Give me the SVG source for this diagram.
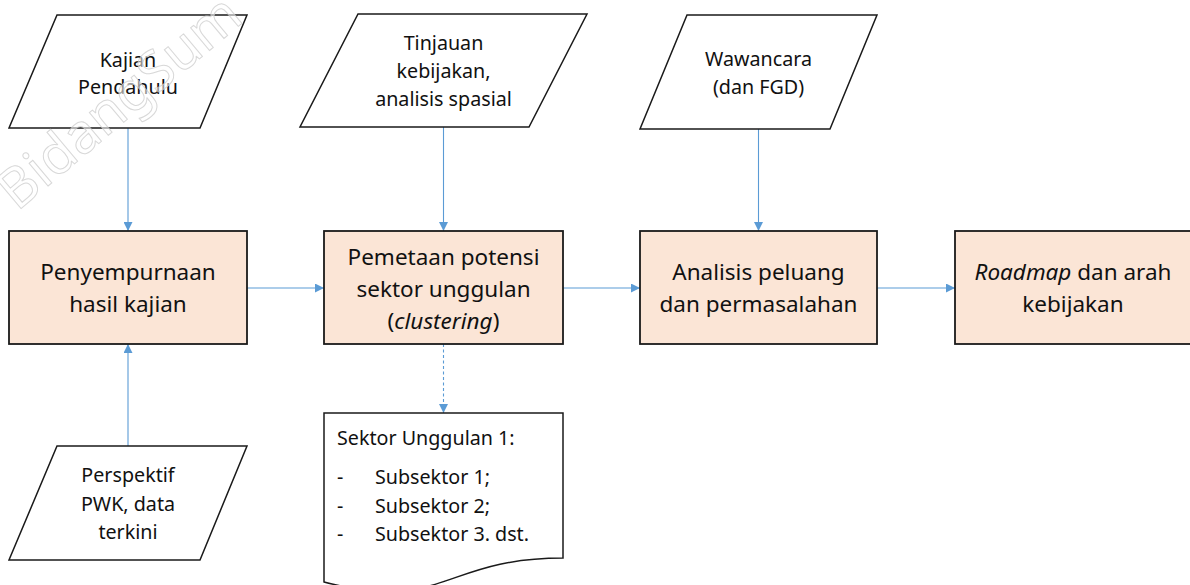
<svg xmlns="http://www.w3.org/2000/svg" width="1190" height="585" viewBox="0 0 1190 585">
  <defs>
    <marker id="arrow" viewBox="0 0 10 10" refX="10" refY="5" markerWidth="9" markerHeight="9" markerUnits="userSpaceOnUse" orient="auto">
      <path d="M0,0 L10,5 L0,10 Z" fill="#5B9BD5"/>
    </marker>
    <style>
      .process { fill: #FBE5D6; stroke: #1a1a1a; stroke-width: 1.8; }
      .io { fill: #ffffff; stroke: #1a1a1a; stroke-width: 1.5; stroke-linejoin: miter; }
      .doc { fill: #ffffff; stroke: #1a1a1a; stroke-width: 1.5; }
      .link { fill: none; stroke: #5B9BD5; stroke-width: 1.1; marker-end: url(#arrow); }
      .dashed { stroke-dasharray: 3 2.5; }
      .big { font-family: "Noto Sans", "Open Sans", sans-serif; font-size: 22.5px; fill: #111; text-anchor: middle; }
      .small { font-family: "Noto Sans", "Open Sans", sans-serif; font-size: 19.7px; fill: #111; text-anchor: middle; }
      .list { font-family: "Noto Sans", "Open Sans", sans-serif; font-size: 19.7px; fill: #111; }
      .wm { font-family: "Noto Sans", "Open Sans", sans-serif; font-size: 55px; fill: #ffffff; fill-opacity: 0.55; stroke: #c8c8c8; stroke-opacity: 0.7; stroke-width: 1; }
    </style>
  </defs>

  <rect width="1190" height="585" fill="#ffffff"/>

  <!-- connectors -->
  <g id="connectors">
    <line class="link" x1="128" y1="128" x2="128" y2="231"/>
    <line class="link" x1="443.5" y1="127" x2="443.5" y2="231"/>
    <line class="link" x1="758.5" y1="129" x2="758.5" y2="231"/>
    <line class="link" x1="128" y1="446" x2="128" y2="344"/>
    <line class="link" x1="247" y1="288" x2="324" y2="288"/>
    <line class="link" x1="563" y1="288" x2="640" y2="288"/>
    <line class="link" x1="877" y1="288" x2="955" y2="288"/>
    <line class="link dashed" x1="443.5" y1="344" x2="443.5" y2="413"/>
  </g>

  <!-- inputs -->
  <g id="kajian">
    <polygon class="io" points="57,15 247,15 200,128 9,128"/>
    <text class="small" x="128" y="67">Kajian</text>
    <text class="small" x="128" y="94">Pendahulu</text>
  </g>

  <g id="tinjauan">
    <polygon class="io" points="358,14 587,14 529,127 300,127"/>
    <text class="small" x="443.5" y="50">Tinjauan</text>
    <text class="small" x="443.5" y="78">kebijakan,</text>
    <text class="small" x="443.5" y="106">analisis spasial</text>
  </g>

  <g id="wawancara">
    <polygon class="io" points="687,15 877,15 830,129 640,129"/>
    <text class="small" x="758.5" y="66">Wawancara</text>
    <text class="small" x="758.5" y="94">(dan FGD)</text>
  </g>

  <g id="perspektif">
    <polygon class="io" points="57,446 247,446 200,560 9,560"/>
    <text class="small" x="128" y="482">Perspektif</text>
    <text class="small" x="128" y="511">PWK, data</text>
    <text class="small" x="128" y="539">terkini</text>
  </g>

  <!-- process steps -->
  <g id="penyempurnaan">
    <rect class="process" x="9" y="231" width="238" height="113"/>
    <text class="big" x="128" y="280">Penyempurnaan</text>
    <text class="big" x="128" y="312">hasil kajian</text>
  </g>

  <g id="pemetaan">
    <rect class="process" x="324" y="231" width="239" height="113"/>
    <text class="big" x="443.5" y="265">Pemetaan potensi</text>
    <text class="big" x="443.5" y="297">sektor unggulan</text>
    <text class="big" x="443.5" y="329">(<tspan font-style="italic">clustering</tspan>)</text>
  </g>

  <g id="analisis">
    <rect class="process" x="640" y="231" width="237" height="113"/>
    <text class="big" x="758.5" y="280">Analisis peluang</text>
    <text class="big" x="758.5" y="312">dan permasalahan</text>
  </g>

  <g id="roadmap">
    <rect class="process" x="955" y="231" width="238" height="113"/>
    <text class="big" x="1073" y="280"><tspan font-style="italic">Roadmap</tspan> dan arah</text>
    <text class="big" x="1073" y="312">kebijakan</text>
  </g>

  <!-- output document -->
  <g id="sektor-unggulan">
    <path class="doc" d="M324,413 H563 V558 C443.5,558 443.5,613 324,582 Z"/>
    <text class="list" x="337" y="445">Sektor Unggulan 1:</text>
    <text class="list" x="337" y="484">-</text>
    <text class="list" x="375" y="484">Subsektor 1;</text>
    <text class="list" x="337" y="513">-</text>
    <text class="list" x="375" y="513">Subsektor 2;</text>
    <text class="list" x="337" y="541">-</text>
    <text class="list" x="375" y="541">Subsektor 3. dst.</text>
  </g>

  <!-- faint watermark laid over the top-left corner -->
  <text class="wm" transform="translate(17,212) rotate(-40)">BidangSum</text>
</svg>
